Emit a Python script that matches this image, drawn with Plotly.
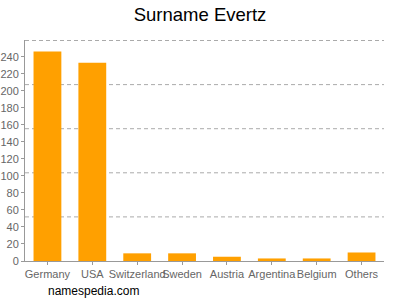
import plotly.graph_objects as go

countries = ["Germany", "USA", "Switzerland", "Sweden", "Austria", "Argentina", "Belgium", "Others"]
counts = [246, 233, 9, 9, 5, 3, 3, 10]
y_ticks = list(range(0, 241, 20))
y_top = 259
grid_vals = [y_top * k / 5 for k in range(1, 6)]

fig = go.Figure()
fig.add_trace(go.Bar(x=countries, y=counts, marker=dict(color="#FFA000", line=dict(width=0))))

for gv in grid_vals:
    fig.add_shape(type="line", xref="paper", yref="y", x0=0, x1=1, y0=gv, y1=gv,
                  line=dict(color="#aaa", width=1, dash="4px,3px"), layer="below")

fig.update_layout(
    width=400, height=300,
    margin=dict(l=25, r=16, t=40, b=39, autoexpand=False),
    paper_bgcolor="white", plot_bgcolor="white",
    showlegend=False,
    bargap=0.38,
    title=dict(text="Surname Evertz", x=0.5, xanchor="center", y=0.95, yanchor="middle",
               font=dict(family="Liberation Sans, Arial", size=18.5, color="black")),
    font=dict(family="Liberation Sans, Arial", size=11, color="#666"),
    xaxis=dict(showline=True, linecolor="#999", linewidth=1, ticks="outside", ticklen=3,
               tickcolor="#999", tickangle=0, automargin=False,
               tickfont=dict(size=11, color="#666")),
    yaxis=dict(range=[0, y_top + 0.6], tickvals=y_ticks, showgrid=False, showline=True,
               linecolor="#999", linewidth=1, ticks="outside", ticklen=3, tickcolor="#999",
               automargin=False, tickfont=dict(size=11, color="#666"), zeroline=False),
)
fig.add_annotation(text="namespedia.com", xref="paper", yref="paper", x=0.058, y=-0.135,
                   xanchor="left", yanchor="middle", showarrow=False,
                   font=dict(family="Liberation Sans, Arial", size=12, color="black"))
fig.write_html("out.html")
